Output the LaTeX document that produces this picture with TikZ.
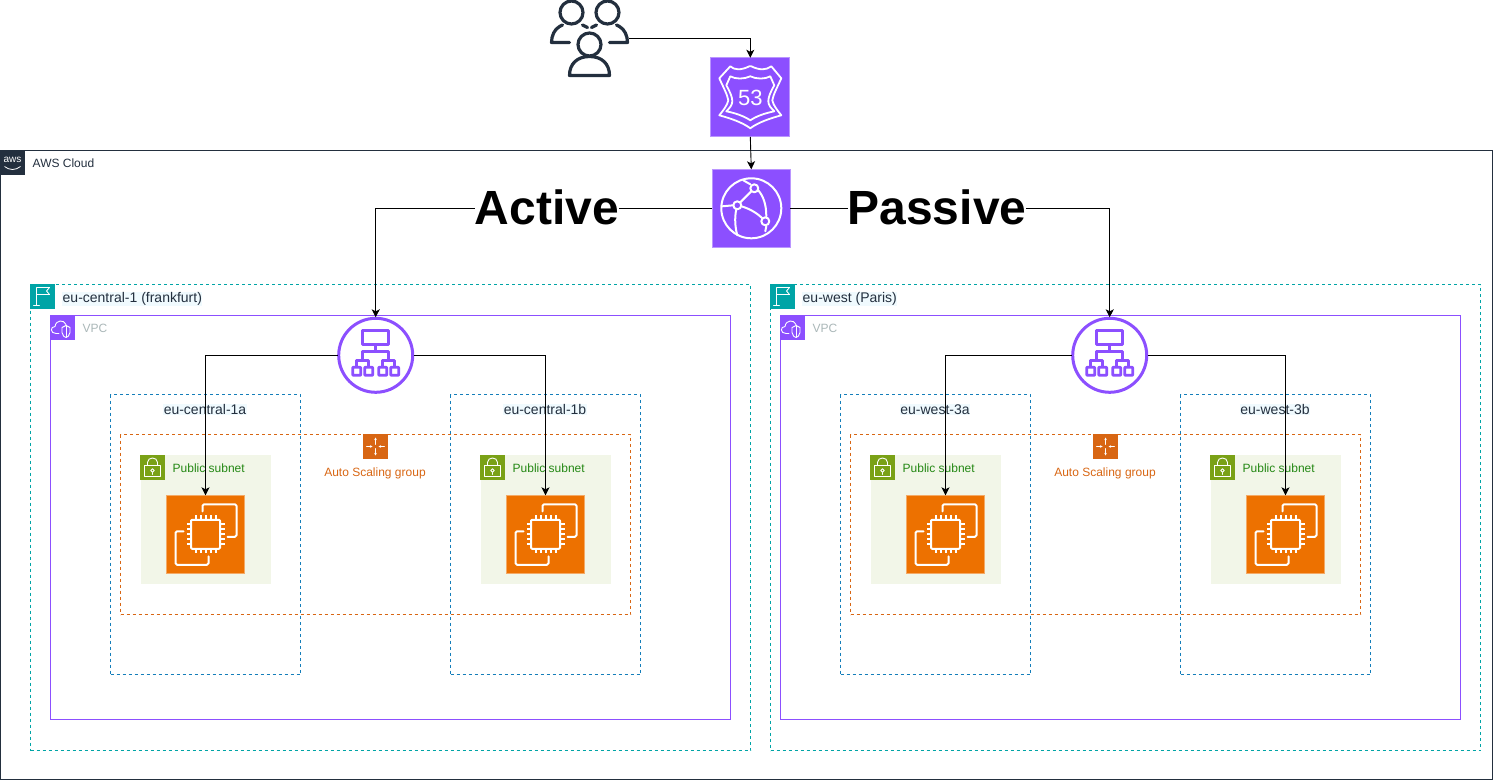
\documentclass[tikz,border=0pt]{standalone}
\usepackage{fontspec}
\setmainfont{Liberation Sans}
\usetikzlibrary{arrows.meta}
\definecolor{awsdark}{HTML}{232F3E}
\definecolor{awsteal}{HTML}{00A4A6}
\definecolor{awspurple}{HTML}{8C4FFF}
\definecolor{awsblue}{HTML}{147EBA}
\definecolor{awsorange}{HTML}{D86613}
\definecolor{ec2orange}{HTML}{ED7100}
\definecolor{awsgreen}{HTML}{7AA116}
\definecolor{subnetbg}{HTML}{F2F6E8}
\definecolor{subnettext}{HTML}{248814}
\definecolor{vpcgray}{HTML}{AAB7B8}
\definecolor{labelbg}{HTML}{F0FAFE}
\tikzset{
  cont/.style={rectangle,inner sep=0pt,outer sep=0pt,anchor=north west},
  cloudbox/.style={cont,draw=awsdark,line width=0.9pt},
  regionbox/.style={cont,draw=awsteal,line width=0.9pt,dash pattern=on 3pt off 3pt},
  vpcbox/.style={cont,draw=awspurple,line width=0.9pt},
  azbox/.style={cont,draw=awsblue,line width=0.9pt,dash pattern=on 3pt off 3pt},
  asgbox/.style={cont,draw=awsorange,line width=0.9pt,dash pattern=on 3pt off 3pt},
  subnetbox/.style={cont,fill=subnetbg,minimum width=130pt,minimum height=129pt},
  tag/.style={cont,minimum width=25pt,minimum height=25pt},
  resicon/.style={rectangle,inner sep=0pt,outer sep=0pt,minimum size=78pt},
  conn/.style={draw=black,line width=0.9pt,-{Stealth[length=8pt,width=8pt,inset=2pt]}},
  lbl/.style={font=\fontsize{12pt}{14pt}\selectfont,inner sep=0.5pt,text=awsdark},
  biglbl/.style={font=\fontsize{48pt}{54pt}\selectfont\bfseries,fill=white,inner sep=0pt,text=black},
  wide lbl/.style={lbl,font=\fontsize{14pt}{16pt}\selectfont},
  wline/.style={draw=white,line width=2pt,line join=round,line cap=round},
  thin white/.style={draw=white,line width=0.9pt,line join=round,line cap=round},
  r53icon/.pic={
    \draw[wline,line width=1.8pt] (-20,-31) .. controls (-16,-27) and (-9,-27) .. (-1,-31) .. controls (0,-31.5) and (0,-31.5) .. (1,-31) .. controls (9,-27) and (16,-27) .. (21,-31) -- (31,-19) .. controls (27,-10) and (23,-3) .. (22,3) .. controls (23,8) and (27,13) .. (31,18) .. controls (20,21) and (8,25) .. (0,31) .. controls (-8,25) and (-20,21) .. (-31,18) .. controls (-27,13) and (-23,8) .. (-22,3) .. controls (-23,-3) and (-27,-10) .. (-31,-19) -- cycle;
    \draw[wline,line width=1.8pt] (-20,-21) .. controls (-15,-18) and (-6,-18) .. (0,-21) .. controls (6,-18) and (15,-18) .. (20,-21) -- (24,-12) .. controls (20,-5) and (18,0) .. (18,4) .. controls (18,8) and (21,11) .. (24,14) .. controls (14,16) and (6,19) .. (0,23) .. controls (-6,19) and (-14,16) .. (-24,14) .. controls (-21,11) and (-18,8) .. (-18,4) .. controls (-18,0) and (-20,-5) .. (-24,-12) -- cycle;
    \node[font=\fontsize{22pt}{24pt}\selectfont,text=white,inner sep=0pt] (r53num) at (0,1) {53};
  },
  cficon/.pic={
    \draw[wline] (0,0) circle [radius=30];
    \draw[wline] (3,-20) circle [radius=4];
    \draw[wline] (-14,-3) circle [radius=4];
    \draw[wline] (14,13) circle [radius=4];
    \draw[wline] (0,-17) -- (-11,-6);
    \draw[wline] (-10,-2) .. controls (-3,0) and (5,4) .. (11,10);
    \draw[wline] (7,-18) .. controls (12,-12) and (15,-4) .. (15,8);
    \draw[wline] (-18,-3) -- (-29,-2);
    \draw[wline] (-15,1) .. controls (-17,10) and (-16,20) .. (-14,27);
    \draw[wline] (-8,-28) -- (-1,-24);
    \draw[wline] (15,18) -- (14,23);
  },
  ec2icon/.pic={
    \draw[wline,rounded corners=1pt] (-14.5,-14.5) rectangle (14.5,14.5);
    \foreach \p in {-10,-5,0,5,10}{
      \draw[wline,line cap=butt] (\p,-14.5) -- (\p,-19);
      \draw[wline,line cap=butt] (\p,14.5) -- (\p,19);
      \draw[wline,line cap=butt] (-14.5,\p) -- (-19,\p);
      \draw[wline,line cap=butt] (14.5,\p) -- (19,\p);
    }
    \draw[wline,rounded corners=1.5pt] (-3,-23) -- (-3,-30) -- (31,-30) -- (31,2.5) -- (22,2.5);
    \draw[wline,rounded corners=1.5pt] (-22,-3) -- (-30,-3) -- (-30,30.5) -- (3,30.5) -- (3,22);
  },
  albicon/.pic={
    \draw[draw=awspurple,line width=3pt] (0,0) circle [radius=37];
    \begin{scope}[draw=awspurple,line width=2.8pt,line join=round]
      \draw (-13,-25) rectangle (13,-11);
      \draw (0,-11) -- (0,-4);
      \draw (-13,5) -- (-13,-4) -- (13,-4) -- (13,5);
      \draw (-19,11) -- (-19,5) -- (-7,5) -- (-7,11);
      \draw (7,11) -- (7,5) -- (19,5) -- (19,11);
      \foreach \p in {-19,-7,7,19}{\draw[rounded corners=0.6pt] (\p-4,12) rectangle (\p+4,20);}
    \end{scope}
  },
  usersicon/.pic={
    \begin{scope}[draw=awsdark,line width=3.2pt,line cap=round,line join=round]
      \draw (-18,-26) circle [radius=11.5];
      \draw (18,-26) circle [radius=11.5];
      \draw (0,6) circle [radius=11.5];
      \draw (-20,37) .. controls (-20,25) and (-12,18) .. (0,18) .. controls (12,18) and (20,25) .. (20,37) -- cycle;
      \draw (-2,-11) -- (-7,-13.5);
      \draw (-30,-12) .. controls (-35,-9) and (-38,-3) .. (-38,4) -- (-20,4);
      \draw (2,-11) -- (7,-13.5);
      \draw (30,-12) .. controls (35,-9) and (38,-3) .. (38,4) -- (20,4);
      \draw (-30,-12) -- (-27,-13.5);
      \draw (30,-12) -- (27,-13.5);
    \end{scope}
  },
  awslogo/.pic={
    \node[font=\fontsize{10pt}{10pt}\selectfont,text=white,inner sep=0pt] (awsword) at (0,-3) {aws};
    \draw[white,line width=0.8pt] (-8,4) .. controls (-3,8) and (3,8) .. (8,4);
  },
  flagicon/.pic={
    \draw[thin white] (-6,9) -- (-6,-9) -- (7,-9) -- (4,-5.5) -- (7,-2) -- (-6,-2);
    \draw[thin white] (-9,9) -- (-3,9);
  },
  vpcicon/.pic={
    \draw[thin white] (-3,6) -- (-6,6) .. controls (-12,6) and (-12,-1) .. (-7,-1) .. controls (-6,-8) and (2,-8) .. (4,-3);
    \draw[thin white] (0,0) -- (4,-2) -- (8,0) -- (8,5) .. controls (8,8) and (5,10) .. (4,10) .. controls (3,10) and (0,8) .. (0,5) -- cycle;
    \draw[thin white] (4,-2) -- (4,10);
  },
  lockicon/.pic={
    \draw[thin white] (-8,-2) rectangle (8,9);
    \draw[thin white] (-5,-2) -- (-5,-5) .. controls (-5,-11) and (5,-11) .. (5,-5) -- (5,-2);
    \draw[thin white] (0,3) circle [radius=1.8];
    \draw[thin white] (0,5) -- (0,7);
  },
  asgicon/.pic={
    \draw[thin white,line width=0.7pt,-{Stealth[length=2.5pt,width=2.5pt]}] (0,-2) -- (0,-9);
    \draw[thin white,line width=0.7pt,-{Stealth[length=2.5pt,width=2.5pt]}] (0,2) -- (0,9);
    \draw[thin white,line width=0.7pt,-{Stealth[length=2.5pt,width=2.5pt]}] (-9,0) -- (-3,0);
    \draw[thin white,line width=0.7pt,-{Stealth[length=2.5pt,width=2.5pt]}] (9,0) -- (3,0);
  }
}
\begin{document}
\begin{tikzpicture}[x=1pt,y=-1pt]
\useasboundingbox (0,0) rectangle (1494,781);
% AWS cloud
\node[cloudbox,minimum width=1492pt,minimum height=629pt] (cloud) at (0.5,150.5) {};
\node[tag,fill=awsdark] (cloudtag) at (0,150) {};
\pic at (12.5,162.5) {awslogo};
\node[lbl,anchor=west] (cloudlbl) at (32,163) {AWS Cloud};
% Regions
\node[regionbox,minimum width=720pt,minimum height=466pt] (regA) at (30.5,284.5) {};
\node[regionbox,minimum width=710pt,minimum height=466pt] (regB) at (770.5,284.5) {};
\node[tag,fill=awsteal] (regAtag) at (30,284) {};
\node[tag,fill=awsteal] (regBtag) at (770,284) {};
\pic at (42.5,296.5) {flagicon};
\pic at (782.5,296.5) {flagicon};
\node[wide lbl,anchor=west,fill=labelbg] (regAlbl) at (62,299) {eu-central-1 (frankfurt)};
\node[wide lbl,anchor=west,fill=labelbg] (regBlbl) at (802,299) {eu-west (Paris)};
% VPCs
\node[vpcbox,minimum width=680pt,minimum height=404pt] (vpcA) at (50.5,315) {};
\node[vpcbox,minimum width=680pt,minimum height=404pt] (vpcB) at (780.5,315) {};
\node[tag,fill=awspurple] (vpcAtag) at (50,315) {};
\node[tag,fill=awspurple] (vpcBtag) at (780,315) {};
\pic at (62,327.5) {vpcicon};
\pic at (792,327.5) {vpcicon};
\node[lbl,anchor=west,text=vpcgray] (vpcAlbl) at (82,328) {VPC};
\node[lbl,anchor=west,text=vpcgray] (vpcBlbl) at (812,328) {VPC};
% AZs
\node[azbox,minimum width=190pt,minimum height=280pt] (azA1) at (110.5,394.5) {};
\node[azbox,minimum width=190pt,minimum height=280pt] (azA2) at (450.5,394.5) {};
\node[azbox,minimum width=190pt,minimum height=280pt] (azB1) at (840.5,394.5) {};
\node[azbox,minimum width=190pt,minimum height=280pt] (azB2) at (1180.5,394.5) {};
\node[wide lbl,fill=labelbg] (azA1lbl) at (205,409.5) {eu-central-1a};
\node[wide lbl,fill=labelbg] (azA2lbl) at (545,409.5) {eu-central-1b};
\node[wide lbl,fill=labelbg] (azB1lbl) at (935,409.5) {eu-west-3a};
\node[wide lbl,fill=labelbg] (azB2lbl) at (1275,409.5) {eu-west-3b};
% ASGs
\node[asgbox,minimum width=510pt,minimum height=180pt] (asgA) at (120.5,434.5) {};
\node[asgbox,minimum width=510pt,minimum height=180pt] (asgB) at (850.5,434.5) {};
\node[tag,fill=awsorange] (asgAtag) at (363,434) {};
\node[tag,fill=awsorange] (asgBtag) at (1093,434) {};
\pic at (375.5,446.5) {asgicon};
\pic at (1105.5,446.5) {asgicon};
\node[lbl,text=awsorange] (asgAlbl) at (375,473) {Auto Scaling group};
\node[lbl,text=awsorange] (asgBlbl) at (1105,473) {Auto Scaling group};
% Subnets
\foreach \nm/\xx in {A1/140,A2/480,B1/870,B2/1210}{
  \node[subnetbox] (sub\nm) at (\xx.5,455) {};
  \node[tag,fill=awsgreen] (sub\nm tag) at (\xx,455) {};
  \pic at (\xx+12.5,467.5) {lockicon};
  \node[lbl,anchor=west,text=subnettext] (sub\nm lbl) at (\xx+32,468) {Public subnet};
}
% EC2
\foreach \nm/\xx in {A1/205.5,A2/545.5,B1/945.5,B2/1285.5}{
  \node[resicon,fill=ec2orange,draw=ec2orange!60!white,line width=0.7pt] (ec2\nm) at (\xx,534.3) {};
  \pic at (ec2\nm) {ec2icon};
}
% ALBs
\node[circle,inner sep=0pt,outer sep=0pt,minimum size=76pt,fill=white] (albA) at (375.7,355.3) {};
\node[circle,inner sep=0pt,outer sep=0pt,minimum size=76pt,fill=white] (albB) at (1109.7,355.3) {};
\pic at (albA) {albicon};
\pic at (albB) {albicon};
% Top icons
\node[inner sep=0pt,minimum size=78pt] (users) at (589.5,38.5) {};
\pic at (users) {usersicon};
\node[resicon,fill=awspurple,draw=awspurple!60!white,line width=0.7pt,minimum size=79pt] (r53) at (750.3,97.3) {};
\pic at (r53) {r53icon};
\node[resicon,fill=awspurple,draw=awspurple!60!white,line width=0.7pt] (cf) at (751.3,208.3) {};
\pic at (cf) {cficon};
% Connectors
\draw[conn] (users.east) -| (r53.north);
\draw[conn] (r53.south) -- (cf.north);
\draw[conn] (cf.west) -| (albA.north);
\draw[conn] (cf.east) -| (albB.north);
\draw[conn] (albA.west) -| (ec2A1.north);
\draw[conn] (albA.east) -| (ec2A2.north);
\draw[conn] (albB.west) -| (ec2B1.north);
\draw[conn] (albB.east) -| (ec2B2.north);
\node[biglbl] (active) at (547,207) {Active};
\node[biglbl] (passive) at (937,207) {Passive};
\end{tikzpicture}
\end{document}
